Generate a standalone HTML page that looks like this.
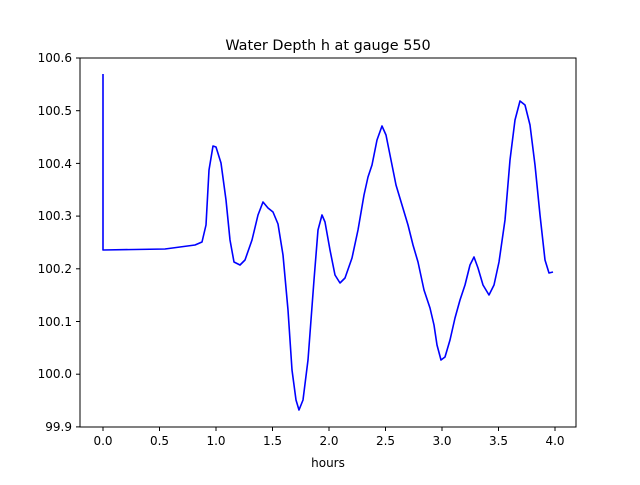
<!DOCTYPE html>
<html><head><style>body{margin:0;background:#fff}</style></head><body>
<svg width="640" height="480" xmlns="http://www.w3.org/2000/svg" font-family="DejaVu Sans, Liberation Sans, sans-serif">
<rect width="640" height="480" fill="#fff"/>
<text x="328" y="50" font-size="14.4" text-anchor="middle">Water Depth h at gauge 550</text>
<polyline fill="none" stroke="#0000ff" stroke-width="1.6" stroke-linejoin="round" points="103,74 103,250 165,249 180,247 195,245 202,242 206,225 209,170 213,146 216,147 221,163 226,200 230,240 234,262 240,265 245,260 252,240 258,215 263,202 268,208 273,212 278,224 283,255 288,310 292,370 296,400 299,410 303,400 308,360 314,280 318,230 322,215 325,222 330,250 335,275 340,283 345,278 352,258 358,230 364,195 368,177 372,165 377,140 382,126 386,135 391,160 396,185 402,205 408,225 413,245 418,262 424,290 430,308 434,325 437,345 441,360 445,357 450,340 455,318 460,300 465,285 470,265 474,257 478,268 483,285 489,295 494,285 499,262 505,220 510,160 515,120 520,101 525,105 530,125 535,165 540,215 545,260 549,273 553,272"/>
<rect x="80" y="58" width="496" height="369" fill="none" stroke="#000" stroke-width="1"/>
<g stroke="#000" stroke-width="1">
<line x1="103" y1="427" x2="103" y2="431"/><line x1="159.5" y1="427" x2="159.5" y2="431"/><line x1="216" y1="427" x2="216" y2="431"/><line x1="272.5" y1="427" x2="272.5" y2="431"/><line x1="329" y1="427" x2="329" y2="431"/><line x1="385.5" y1="427" x2="385.5" y2="431"/><line x1="442" y1="427" x2="442" y2="431"/><line x1="498.5" y1="427" x2="498.5" y2="431"/><line x1="555" y1="427" x2="555" y2="431"/>
<line x1="76" y1="58" x2="80" y2="58"/><line x1="76" y1="110.7" x2="80" y2="110.7"/><line x1="76" y1="163.4" x2="80" y2="163.4"/><line x1="76" y1="216.1" x2="80" y2="216.1"/><line x1="76" y1="268.8" x2="80" y2="268.8"/><line x1="76" y1="321.5" x2="80" y2="321.5"/><line x1="76" y1="374.2" x2="80" y2="374.2"/><line x1="76" y1="426.9" x2="80" y2="426.9"/>
</g>
<g font-size="12" text-anchor="middle">
<text x="103" y="445">0.0</text><text x="159.5" y="445">0.5</text><text x="216" y="445">1.0</text><text x="272.5" y="445">1.5</text><text x="329" y="445">2.0</text><text x="385.5" y="445">2.5</text><text x="442" y="445">3.0</text><text x="498.5" y="445">3.5</text><text x="555" y="445">4.0</text>
<text x="328" y="467">hours</text>
</g>
<g font-size="12" text-anchor="end">
<text x="72" y="62">100.6</text><text x="72" y="115">100.5</text><text x="72" y="168">100.4</text><text x="72" y="220">100.3</text><text x="72" y="273">100.2</text><text x="72" y="326">100.1</text><text x="72" y="378">100.0</text><text x="72" y="431">99.9</text>
</g>
</svg>
</body></html>
